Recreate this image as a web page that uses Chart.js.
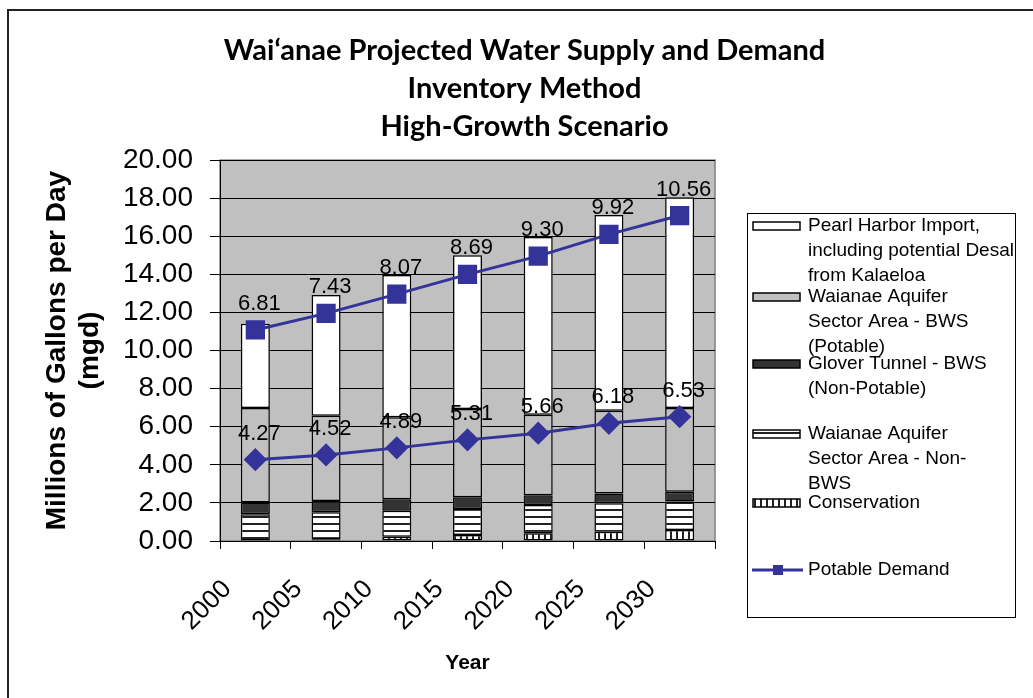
<!DOCTYPE html>
<html>
<head>
<meta charset="utf-8">
<script src="https://cdn.jsdelivr.net/npm/chart.js@4.4.1/dist/chart.umd.min.js"></script>
<style>
  html, body { margin: 0; padding: 0; background: #fff; }
  #wrap { width: 1033px; height: 698px; }
</style>
</head>
<body>
<div id="wrap"><canvas id="supplyChart"></canvas></div>
<script>
const years = ['2000', '2005', '2010', '2015', '2020', '2025', '2030'];

// supply sources in mgd, bottom of the stack first
const conservation = [0.00, 0.09, 0.22, 0.32, 0.41, 0.49, 0.58];
const nonBwsAquifer = [1.40, 1.42, 1.37, 1.36, 1.48, 1.49, 1.49];
const gloverTunnel = [0.62, 0.59, 0.60, 0.62, 0.51, 0.51, 0.51];
const bwsAquifer = [4.96, 4.47, 4.31, 4.63, 4.23, 4.35, 4.40];
const pearlHarborImport = [4.43, 6.35, 7.47, 8.07, 9.33, 10.28, 11.07];

// demand lines (stacked, upper one sits on the lower one)
const baseDemand = [4.27, 4.52, 4.89, 5.31, 5.66, 6.18, 6.53];
const potableDemand = [6.81, 7.43, 8.07, 8.69, 9.30, 9.92, 10.56];

const yTicks = [0, 2, 4, 6, 8, 10, 12, 14, 16, 18, 20];

const legendLines = [
    ['Pearl Harbor Import,', 'including potential Desal', 'from Kalaeloa'],
    ['Waianae Aquifer', 'Sector Area - BWS', '(Potable)'],
    ['Glover Tunnel - BWS', '(Non-Potable)'],
    ['Waianae Aquifer', 'Sector Area - Non-', 'BWS'],
    ['Conservation'],
    ['Potable Demand']
];

const canvas = document.getElementById('supplyChart');
const ctx0 = canvas.getContext('2d');

function stripes(horizontal) {
    const c = document.createElement('canvas');
    c.width = horizontal ? 8 : 6;
    c.height = horizontal ? 7 : 8;
    const g = c.getContext('2d');
    g.fillStyle = '#fff';
    g.fillRect(0, 0, c.width, c.height);
    g.fillStyle = '#222';
    if (horizontal) g.fillRect(0, 5, c.width, 2);
    else g.fillRect(4, 0, 2, c.height);
    return ctx0.createPattern(c, 'repeat');
}

const hStripes = stripes(true);
const vStripes = stripes(false);

Chart.defaults.font.family = '"Liberation Sans", Arial, sans-serif';
Chart.defaults.color = '#000';

const frame = {
    id: 'frame',
    beforeDraw(chart) {
        const {ctx, chartArea: a} = chart;
        ctx.save();
        ctx.fillStyle = '#fff';
        ctx.fillRect(0, 0, chart.width, chart.height);
        ctx.fillStyle = '#c0c0c0';
        ctx.fillRect(a.left, a.top, a.right - a.left, a.bottom - a.top);
        ctx.strokeStyle = '#808080';
        ctx.lineWidth = 1.5;
        ctx.strokeRect(a.left, a.top, a.right - a.left, a.bottom - a.top);
        ctx.strokeStyle = '#222';
        ctx.lineWidth = 2;
        ctx.beginPath();
        ctx.moveTo(8, chart.height);
        ctx.lineTo(8, 10);
        ctx.lineTo(chart.width, 10);
        ctx.stroke();
        ctx.restore();
    }
};

const pointLabels = {
    id: 'pointLabels',
    afterDatasetsDraw(chart) {
        const ctx = chart.ctx;
        ctx.save();
        ctx.font = '22px "Liberation Sans", Arial, sans-serif';
        ctx.fillStyle = '#000';
        ctx.textAlign = 'center';
        ctx.textBaseline = 'middle';
        chart.data.datasets.forEach((ds, i) => {
            if (ds.type !== 'line') return;
            chart.getDatasetMeta(i).data.forEach((pt, j) => {
                ctx.fillText(ds.data[j].toFixed(2), pt.x + 4, pt.y - 26);
            });
        });
        ctx.restore();
    }
};

// legend on the right, drawn by hand because of the wrapped labels
const legendBox = {
    id: 'legendBox',
    afterDraw(chart) {
        const ctx = chart.ctx;
        const datasets = chart.data.datasets;
        const entries = [4, 3, 2, 1, 0, 6];
        const firstLineY = [226, 297, 364, 434, 503, 570];
        const spacing = 25;

        ctx.save();
        ctx.strokeStyle = '#000';
        ctx.lineWidth = 1;
        ctx.strokeRect(747.5, 213.5, 268, 404);

        ctx.font = '19px "Liberation Sans", Arial, sans-serif';
        ctx.textBaseline = 'middle';
        ctx.textAlign = 'left';

        entries.forEach((dsIndex, k) => {
            const ds = datasets[dsIndex];
            const y = firstLineY[k];
            if (ds.type === 'line') {
                ctx.strokeStyle = ds.borderColor;
                ctx.lineWidth = 3;
                ctx.beginPath();
                ctx.moveTo(752, y);
                ctx.lineTo(803, y);
                ctx.stroke();
                ctx.fillStyle = ds.backgroundColor;
                ctx.fillRect(773, y - 5, 10, 10);
            } else {
                ctx.fillStyle = ds.backgroundColor;
                ctx.fillRect(753, y - 4, 47, 8);
                ctx.strokeStyle = '#000';
                ctx.lineWidth = 1.5;
                ctx.strokeRect(753, y - 4, 47, 8);
            }
            ctx.fillStyle = '#000';
            legendLines[k].forEach((line, n) => {
                ctx.fillText(line, 808, y + n * spacing);
            });
        });
        ctx.restore();
    }
};

const barStyle = {
    type: 'bar',
    stack: 'supply',
    order: 1,
    borderColor: '#000',
    borderWidth: 1.5,
    borderSkipped: false,
    barPercentage: 0.41,
    categoryPercentage: 1.0
};

new Chart(canvas, {
    type: 'bar',
    data: {
        labels: years,
        datasets: [
            {...barStyle, label: 'Conservation', data: conservation, backgroundColor: vStripes},
            {...barStyle, label: 'Waianae Aquifer Sector Area - Non-BWS', data: nonBwsAquifer, backgroundColor: hStripes},
            {...barStyle, label: 'Glover Tunnel - BWS (Non-Potable)', data: gloverTunnel, backgroundColor: '#333333'},
            {...barStyle, label: 'Waianae Aquifer Sector Area - BWS (Potable)', data: bwsAquifer, backgroundColor: '#c0c0c0'},
            {...barStyle, label: 'Pearl Harbor Import, including potential Desal from Kalaeloa', data: pearlHarborImport, backgroundColor: '#ffffff'},
            {
                type: 'line',
                label: 'Base Demand',
                data: baseDemand,
                stack: 'demand',
                order: 0,
                borderColor: '#333399',
                backgroundColor: '#333399',
                borderWidth: 3,
                pointStyle: 'rectRot',
                pointRadius: 9.5,
                tension: 0
            },
            {
                type: 'line',
                label: 'Potable Demand',
                data: potableDemand,
                stack: 'demand',
                order: 0,
                borderColor: '#333399',
                backgroundColor: '#333399',
                borderWidth: 3,
                pointStyle: 'rect',
                pointRadius: 11.5,
                tension: 0
            }
        ]
    },
    options: {
        responsive: true,
        maintainAspectRatio: false,
        animation: false,
        layout: {
            padding: {left: 16, top: 0, right: 0, bottom: 0}
        },
        scales: {
            x: {
                stacked: true,
                grid: {
                    offset: true,
                    drawOnChartArea: false,
                    tickLength: 8,
                    color: '#000'
                },
                border: {color: '#000'},
                ticks: {
                    font: {size: 26},
                    minRotation: 45,
                    maxRotation: 45,
                    labelOffset: -28,
                    padding: 25
                },
                title: {
                    display: true,
                    text: 'Year',
                    font: {size: 21, weight: 'bold'},
                    padding: {top: 0, bottom: 22}
                },
                afterFit(scale) {
                    scale.height = 157;
                }
            },
            y: {
                stacked: true,
                min: 0,
                max: 20,
                afterBuildTicks(scale) {
                    scale.ticks = yTicks.map(v => ({value: v}));
                },
                ticks: {
                    font: {size: 28},
                    padding: 17,
                    callback: value => value.toFixed(2)
                },
                grid: {
                    color: '#000',
                    tickLength: 10
                },
                border: {color: '#000'},
                title: {
                    display: true,
                    text: ['Millions of Gallons per Day', '(mgd)'],
                    font: {size: 28, weight: 'bold', lineHeight: 1.18},
                    padding: {top: 24.5, bottom: 0}
                },
                afterFit(scale) {
                    scale.width = 204;
                }
            },
            legendSpace: {
                type: 'linear',
                position: 'right',
                grid: {display: false},
                border: {display: false},
                ticks: {display: false},
                afterFit(scale) {
                    scale.width = 318;
                }
            }
        },
        plugins: {
            legend: {display: false},
            tooltip: {enabled: false},
            title: {
                display: true,
                text: ['Wai‘anae Projected Water Supply and Demand', 'Inventory Method', 'High-Growth Scenario'],
                color: '#000',
                font: {
                    family: 'Lato, "Liberation Sans", sans-serif',
                    size: 29,
                    weight: 'bold',
                    lineHeight: 1.3
                },
                padding: {top: 32, bottom: 15}
            }
        }
    },
    plugins: [frame, pointLabels, legendBox]
});
</script>
</body>
</html>
